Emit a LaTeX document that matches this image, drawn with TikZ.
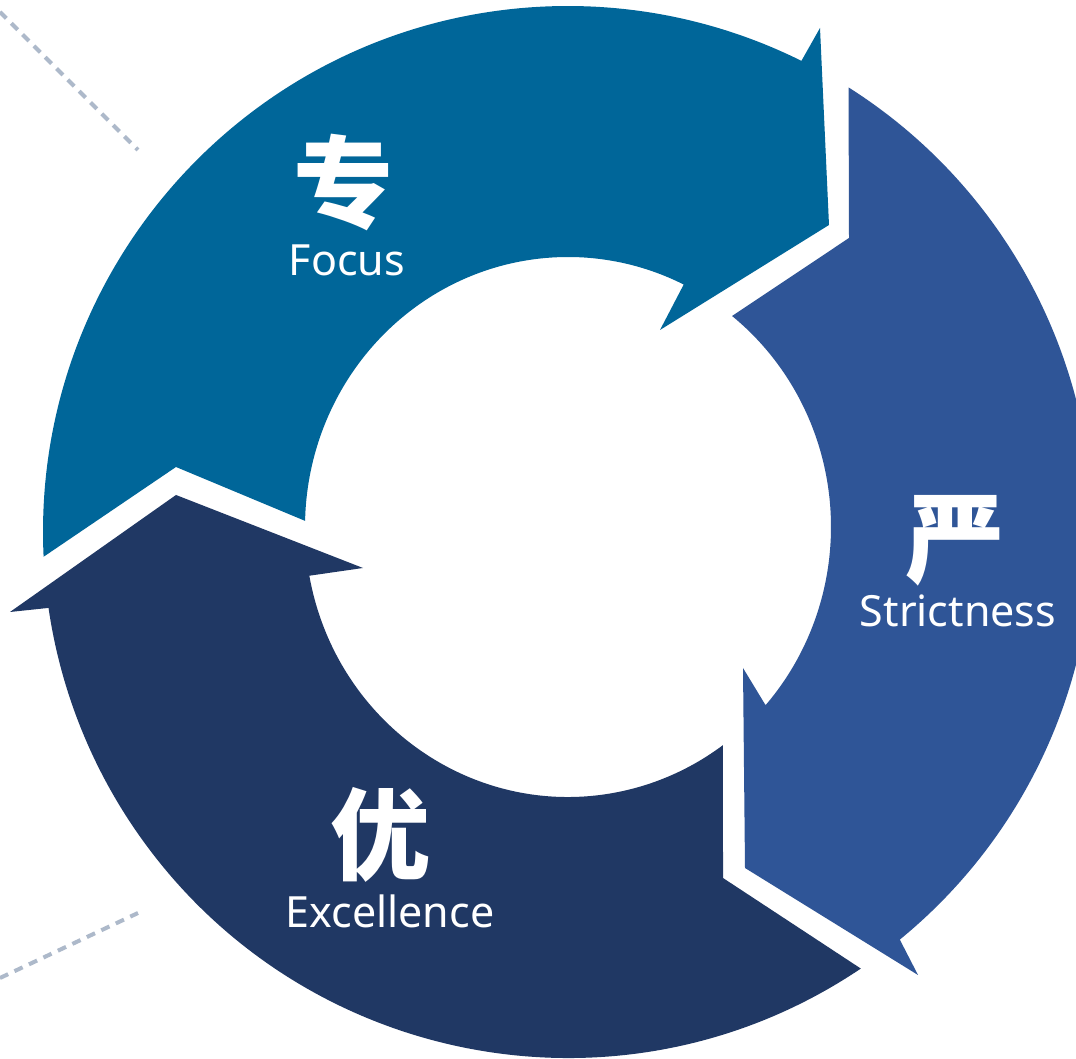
\documentclass[tikz,border=0pt]{standalone}
\usepackage{fontspec}
\setmainfont{Noto Sans}
\newfontfamily\cjk{Noto Sans CJK SC}
\usetikzlibrary{calc}
\definecolor{focusblue}{HTML}{006699}
\definecolor{strictblue}{HTML}{2F5597}
\definecolor{excelblue}{HTML}{203864}
\definecolor{guide}{HTML}{ADB9CA}

\begin{document}
\begin{tikzpicture}[x=1pt,y=1pt,
  glyph/.style={text=white, inner sep=0pt, font=\cjk\bfseries\fontsize{100}{100}\selectfont},
  caption/.style={text=white, inner sep=0pt, font=\fontsize{43}{43}\selectfont},
  guideline/.style={draw=guide, line width=4pt, dash pattern=on 9pt off 7pt},
  outer/.style={x radius=525pt, y radius=526pt},
  inner/.style={x radius=263pt, y radius=270pt}]
\fill[white] (0,0) rectangle (1076,1059);
\clip (0,0) rectangle (1076,1059);

% ring geometry: outer and inner rims
\coordinate (O) at (568,527);
\coordinate (I) at (568,532);

% dashed guide lines on the left
\coordinate (g1a) at (0,1047);
\coordinate (g1b) at (138,909);
\coordinate (g2a) at (0,81);
\coordinate (g2b) at (138,146);
\draw[guideline] (g1a) -- (g1b);
\draw[guideline] (g2a) -- (g2b);

% Focus arrow
\fill[focusblue] ($(O)+(182.7:525pt and 526pt)$)
  arc[outer, start angle=182.7, end angle=63.6]
  -- (820,1031) -- (829,834) -- (660,729)
  -- ($(I)+(63.9:263pt and 270pt)$)
  arc[inner, start angle=63.9, end angle=178.7]
  -- (176,592) -- cycle;

% Strictness arrow
\fill[strictblue] ($(O)+(57.7:525pt and 526pt)$)
  arc[outer, start angle=57.7, end angle=-50.8]
  -- (918,84) -- (745,191) -- (743,391)
  -- ($(I)+(-41.3:263pt and 270pt)$)
  arc[inner, start angle=-41.3, end angle=51.4]
  -- (849,821) -- cycle;

% Excellence arrow
\fill[excelblue] ($(O)+(-56.1:525pt and 526pt)$)
  arc[outer, start angle=-56.1, end angle=-171.7]
  -- (10,447) -- (176,564) -- (363,491)
  -- ($(I)+(-169.6:263pt and 270pt)$)
  arc[inner, start angle=-169.6, end angle=-53.9]
  -- (723,181) -- cycle;

% labels
\node[glyph] (zhuan) at (343,876) {专};
\node[caption] (focus) at (347,799) {Focus};
\node[glyph] (yan) at (955,518) {严};
\node[caption] (strict) at (958,448) {Strictness};
\node[glyph] (you) at (380,224) {优};
\node[caption] (excel) at (390,148) {Excellence};
\end{tikzpicture}
\end{document}
